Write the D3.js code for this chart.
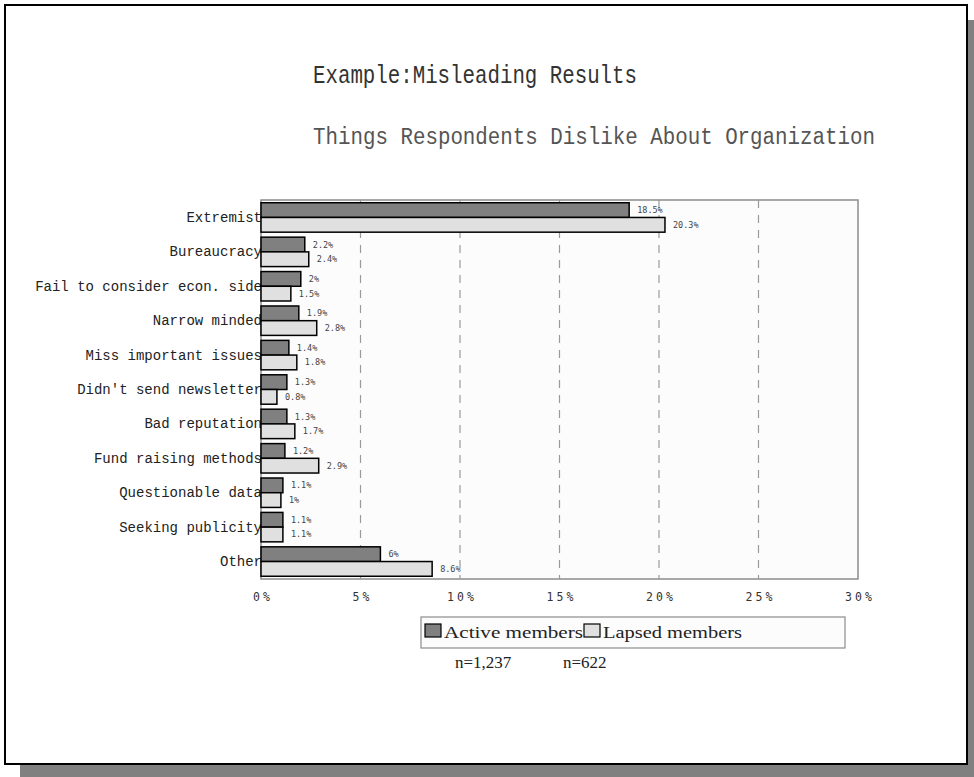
<!DOCTYPE html>
<html>
<head>
<meta charset="utf-8">
<script src="https://cdn.jsdelivr.net/npm/d3@7/dist/d3.min.js"></script>
<style>
  html, body { margin: 0; padding: 0; background: #fff; }
  svg { display: block; }
  text { font-family: "Liberation Mono", "DejaVu Sans Mono", monospace; fill: #222; }
</style>
</head>
<body>
<svg id="chart" width="974" height="777"></svg>
<script>
// Survey answers, in display order (top to bottom)
const categories = [
  "Extremist", "Bureaucracy", "Fail to consider econ. side", "Narrow minded",
  "Miss important issues", "Didn't send newsletter", "Bad reputation",
  "Fund raising methods", "Questionable data", "Seeking publicity", "Other"
];
const activeMembers = [18.5, 2.2, 2, 1.9, 1.4, 1.3, 1.3, 1.2, 1.1, 1.1, 6];
const lapsedMembers = [20.3, 2.4, 1.5, 2.8, 1.8, 0.8, 1.7, 2.9, 1, 1.1, 8.6];
const seriesNames = ["Active members", "Lapsed members"];
const sampleSizes = ["n=1,237", "n=622"];
const xTicks = [0, 5, 10, 15, 20, 25, 30];
const titleText = "Example:Misleading Results";
const subtitleText = "Things Respondents Dislike About Organization";

const svg = d3.select("#chart");
const colors = ["#808080", "#e0e0e0"];

// Slide frame with drop shadow
svg.append("rect").attr("x", 20).attr("y", 20).attr("width", 954).attr("height", 757).attr("fill", "#808080");
svg.append("rect").attr("x", 5).attr("y", 5).attr("width", 962).attr("height", 759)
  .attr("fill", "#fff").attr("stroke", "#000").attr("stroke-width", 2);

// Titles
svg.append("text").attr("x", 313).attr("y", 83).attr("font-size", 25)
  .attr("textLength", 324).attr("lengthAdjust", "spacingAndGlyphs")
  .style("fill", "#333").text(titleText);
svg.append("text").attr("x", 313).attr("y", 144).attr("font-size", 23)
  .attr("textLength", 562).attr("lengthAdjust", "spacingAndGlyphs")
  .style("fill", "#555").text(subtitleText);

// Plot area
const plot = { left: 261, right: 858, top: 200, bottom: 579 };
const x = d3.scaleLinear().domain([0, 30]).range([plot.left, plot.right]);
const y = d3.scaleBand().domain(categories).range([plot.top, plot.bottom])
  .paddingInner(0.145).paddingOuter(0.08);
const sub = d3.scaleBand().domain([0, 1]).range([0, y.bandwidth()]);

svg.append("rect").attr("x", plot.left).attr("y", plot.top)
  .attr("width", plot.right - plot.left).attr("height", plot.bottom - plot.top)
  .attr("fill", "#fcfcfc").attr("stroke", "#8c8c8c").attr("stroke-width", 1.5);

// Dashed vertical gridlines
svg.append("g").selectAll("line").data(xTicks.filter(t => t > 0 && t < 30)).join("line")
  .attr("x1", d => x(d)).attr("x2", d => x(d))
  .attr("y1", plot.top).attr("y2", plot.bottom)
  .attr("stroke", "#9a9a9a").attr("stroke-width", 1.2).attr("stroke-dasharray", "8,7");

// X axis tick labels
const xAxis = d3.axisBottom(x).tickValues(xTicks).tickSize(0).tickPadding(0)
  .tickFormat(d => d + "%");
const gx = svg.append("g").attr("transform", `translate(0,${plot.bottom + 14})`).call(xAxis);
gx.select(".domain").remove();
gx.selectAll("text").attr("font-size", 11.5).attr("letter-spacing", 3)
  .attr("dx", 1.5).style("fill", "#333")
  .style("font-family", "'DejaVu Sans Mono', monospace");

// Y axis category labels
const yAxis = d3.axisLeft(y).tickSize(0).tickPadding(0);
const gy = svg.append("g").attr("transform", `translate(${plot.left + 1},0)`).call(yAxis);
gy.select(".domain").remove();
gy.selectAll("text").attr("font-size", 14).style("fill", "#222")
  .style("font-family", "'Liberation Mono', monospace");

// Bars
const rows = categories.map((c, i) => ({ cat: c, vals: [activeMembers[i], lapsedMembers[i]] }));
const groups = svg.append("g").selectAll("g").data(rows).join("g")
  .attr("transform", d => `translate(0,${y(d.cat)})`);
groups.selectAll("rect").data(d => d.vals.map((v, k) => ({ v, k }))).join("rect")
  .attr("x", x(0)).attr("y", d => sub(d.k))
  .attr("width", d => x(d.v) - x(0)).attr("height", sub.bandwidth())
  .attr("fill", d => colors[d.k]).attr("stroke", "#000").attr("stroke-width", 1.5);
groups.selectAll("text").data(d => d.vals.map((v, k) => ({ v, k }))).join("text")
  .attr("x", d => x(d.v) + 8).attr("y", d => sub(d.k) + sub.bandwidth() / 2 + 3)
  .attr("font-size", 8.5).style("fill", "#444")
  .style("font-family", "'DejaVu Sans Mono', monospace")
  .text(d => d.v + "%");

// Legend
const lg = svg.append("g");
lg.append("rect").attr("x", 421).attr("y", 617).attr("width", 424).attr("height", 31)
  .attr("fill", "#fcfcfc").attr("stroke", "#8c8c8c").attr("stroke-width", 1.2);
const legendX = [425, 584];
seriesNames.forEach((name, k) => {
  lg.append("rect").attr("x", legendX[k]).attr("y", 624).attr("width", 16).attr("height", 13)
    .attr("fill", colors[k]).attr("stroke", "#000").attr("stroke-width", 1.2);
  lg.append("text").attr("x", legendX[k] + 19).attr("y", 638).attr("font-size", 16)
    .attr("textLength", 139).attr("lengthAdjust", "spacingAndGlyphs")
    .style("fill", "#222").style("font-family", "'Liberation Serif', serif")
    .text(name);
});

// Sample sizes
const nX = [455, 563];
sampleSizes.forEach((s, k) => {
  svg.append("text").attr("x", nX[k]).attr("y", 668).attr("font-size", 17)
    .style("fill", "#222").style("font-family", "'Liberation Serif', serif").text(s);
});
</script>
</body>
</html>
